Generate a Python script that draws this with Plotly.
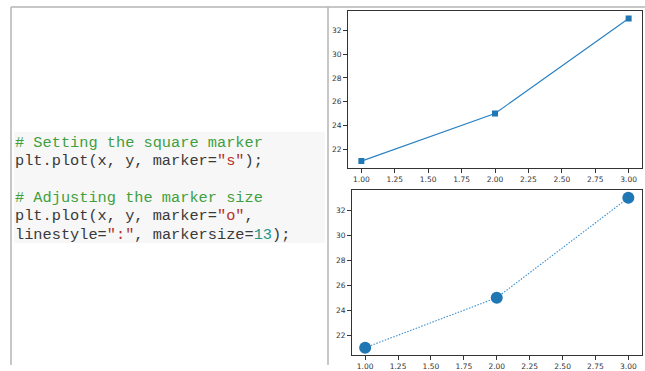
import plotly.graph_objects as go

# Data plotted in both panels
x = [1, 2, 3]
y = [21, 25, 33]

x_ticks = [1.00, 1.25, 1.50, 1.75, 2.00, 2.25, 2.50, 2.75, 3.00]
y_ticks = [22, 24, 26, 28, 30, 32]

W, H = 645, 371
BLUE = "#1f77b4"

def px_x(p):
    return p / W

def px_y(p):
    return 1 - p / H

fig = go.Figure()

# Panel 1: square markers, solid line
fig.add_trace(go.Scatter(
    x=x, y=y, mode="lines+markers", xaxis="x", yaxis="y",
    line=dict(color="#2b82c4", width=1.2),
    marker=dict(symbol="square", size=6, color=BLUE),
    showlegend=False,
))

# Panel 2: large circle markers, dotted line
fig.add_trace(go.Scatter(
    x=x, y=y, mode="lines+markers", xaxis="x2", yaxis="y2",
    line=dict(color="#3a8fd0", width=1.1, dash="1.5px,1.5px"),
    marker=dict(symbol="circle", size=12, color=BLUE),
    showlegend=False,
))

tick_font = dict(family="DejaVu Sans", size=7.5, color="#333333")
axis_common = dict(
    showline=True, linecolor="#333333", linewidth=1, mirror=True,
    ticks="outside", ticklen=4, tickwidth=1, tickcolor="#333333",
    showgrid=False, zeroline=False, tickfont=tick_font, fixedrange=True,
)

fig.update_layout(
    width=W, height=H,
    margin=dict(l=0, r=0, t=0, b=0),
    paper_bgcolor="white", plot_bgcolor="white",
    xaxis=dict(axis_common, domain=[px_x(348), px_x(642)], range=[0.9, 3.1],
               tickvals=x_ticks, tickformat=".2f", anchor="y"),
    yaxis=dict(axis_common, domain=[px_y(171), px_y(11.5)], range=[20.4, 33.6],
               tickvals=y_ticks, anchor="x"),
    xaxis2=dict(axis_common, domain=[px_x(352), px_x(641.5)], range=[0.9, 3.1],
                tickvals=x_ticks, tickformat=".2f", anchor="y2"),
    yaxis2=dict(axis_common, domain=[px_y(361), px_y(193.5)], range=[20.4, 33.6],
                tickvals=y_ticks, anchor="x2"),
)

# Page frame lines and code block background
frame = dict(color="#b4b4b4", width=1.5)
shapes = [
    dict(type="line", xref="paper", yref="paper",
         x0=px_x(11), x1=1, y0=px_y(7), y1=px_y(7), line=frame),
    dict(type="line", xref="paper", yref="paper",
         x0=px_x(11), x1=px_x(11), y0=px_y(7), y1=0, line=frame),
    dict(type="line", xref="paper", yref="paper",
         x0=px_x(328), x1=px_x(328), y0=px_y(7), y1=0, line=frame),
    dict(type="rect", xref="paper", yref="paper",
         x0=px_x(14), x1=px_x(325), y0=px_y(247), y1=px_y(134),
         fillcolor="#f7f7f7", line=dict(width=0), layer="below"),
]
fig.update_layout(shapes=shapes)

GREEN = "#3f9f3f"
RED = "#b5312a"
TEAL = "#20968a"
TXT = "#3a3a3a"

def c(text, color):
    return f'<span style="color:{color}">{text}</span>'

code_lines = [
    (145, c("# Setting the square marker", GREEN)),
    (164, 'plt.plot(x, y, marker=' + c('"s"', RED) + ');'),
    (201.5, c("# Adjusting the marker size", GREEN)),
    (220, 'plt.plot(x, y, marker=' + c('"o"', RED) + ','),
    (238.5, 'linestyle=' + c('":"', RED) + ', markersize=' + c('13', TEAL) + ');'),
]

for ypx, txt in code_lines:
    fig.add_annotation(
        xref="paper", yref="paper", x=px_x(13), y=px_y(ypx),
        xanchor="left", yanchor="middle", showarrow=False,
        text=txt, align="left",
        font=dict(family="Liberation Mono", size=15.3, color=TXT),
    )

fig.write_html("out.html")
